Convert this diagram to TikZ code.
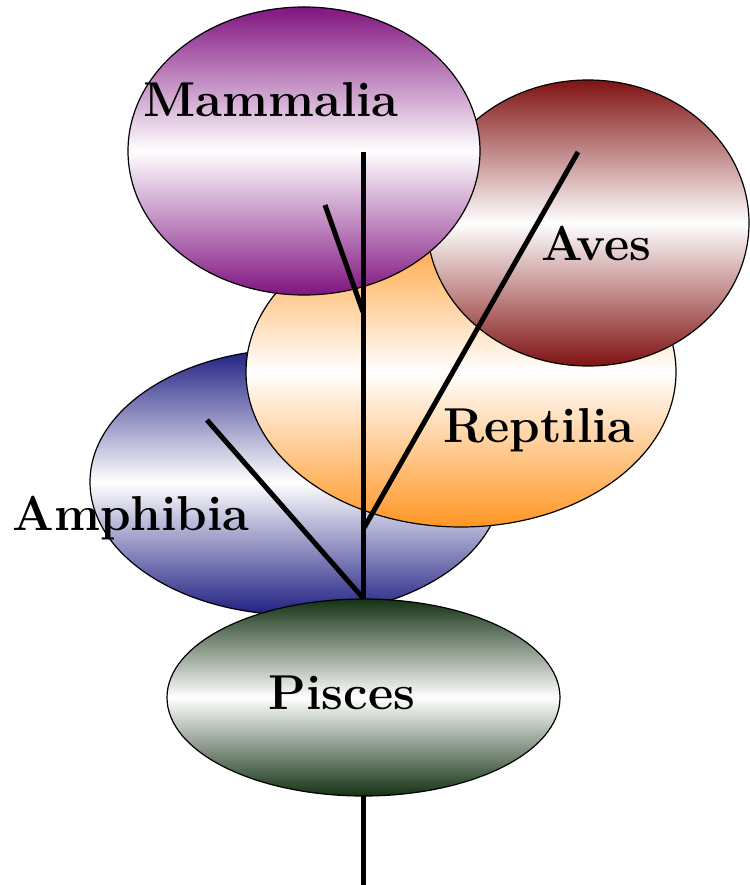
\documentclass[tikz,border=0pt]{standalone}
\usetikzlibrary{shapes.geometric}
\definecolor{mampurple}{RGB}{128,20,128}
\definecolor{avered}{RGB}{128,18,18}
\definecolor{repor}{RGB}{255,150,35}
\definecolor{amphblue}{RGB}{30,30,130}
\definecolor{piscgreen}{RGB}{20,50,20}
\begin{document}
\begin{tikzpicture}[x=1pt,y=-1pt,
  cls/.style={ellipse,draw,line width=1.2pt,inner sep=0pt},
  grad/.style={top color=#1,bottom color=#1,middle color=white},
  lbl/.style={font=\fontsize{49}{59}\selectfont\bfseries,anchor=base,inner sep=0pt},
  branch/.style={line width=5pt}
]
  \useasboundingbox (0,0) rectangle (749,885);
  % Classes, back to front
  \node[cls,grad=amphblue,minimum width=412pt,minimum height=266pt] (amph) at (296,482) {};
  \node[cls,grad=repor,minimum width=430pt,minimum height=310pt] (rept) at (461,372) {};
  \node[cls,grad=avered,minimum width=322pt,minimum height=286pt] (aves) at (588,223) {};
  \node[cls,grad=mampurple,minimum width=352pt,minimum height=288pt] (mamm) at (304,151) {};
  % Tree
  \coordinate (mamtip) at (363,152);
  \coordinate (mamside) at (325,205);
  \coordinate (mamjoin) at (363,312);
  \coordinate (avetip) at (578,152);
  \coordinate (avejoin) at (364,528);
  \coordinate (amphtip) at (207,420);
  \coordinate (fork) at (363,598);
  \coordinate (root) at (363,885);
  \draw[branch] (mamtip) -- (root);
  \draw[branch] (mamside) -- (mamjoin);
  \draw[branch] (avetip) -- (avejoin);
  \draw[branch] (amphtip) -- (fork);
  \node[cls,grad=piscgreen,minimum width=393pt,minimum height=197pt] (pisc) at (363.5,697.5) {};
  % Labels
  \node[lbl] (mammlbl) at (271,117) {Mammalia};
  \node[lbl] (aveslbl) at (596,260) {Aves};
  \node[lbl] (reptlbl) at (539,442) {Reptilia};
  \node[lbl] (amphlbl) at (131,530) {Amphibia};
  \node[lbl] (pisclbl) at (342,709) {Pisces};
\end{tikzpicture}
\end{document}
